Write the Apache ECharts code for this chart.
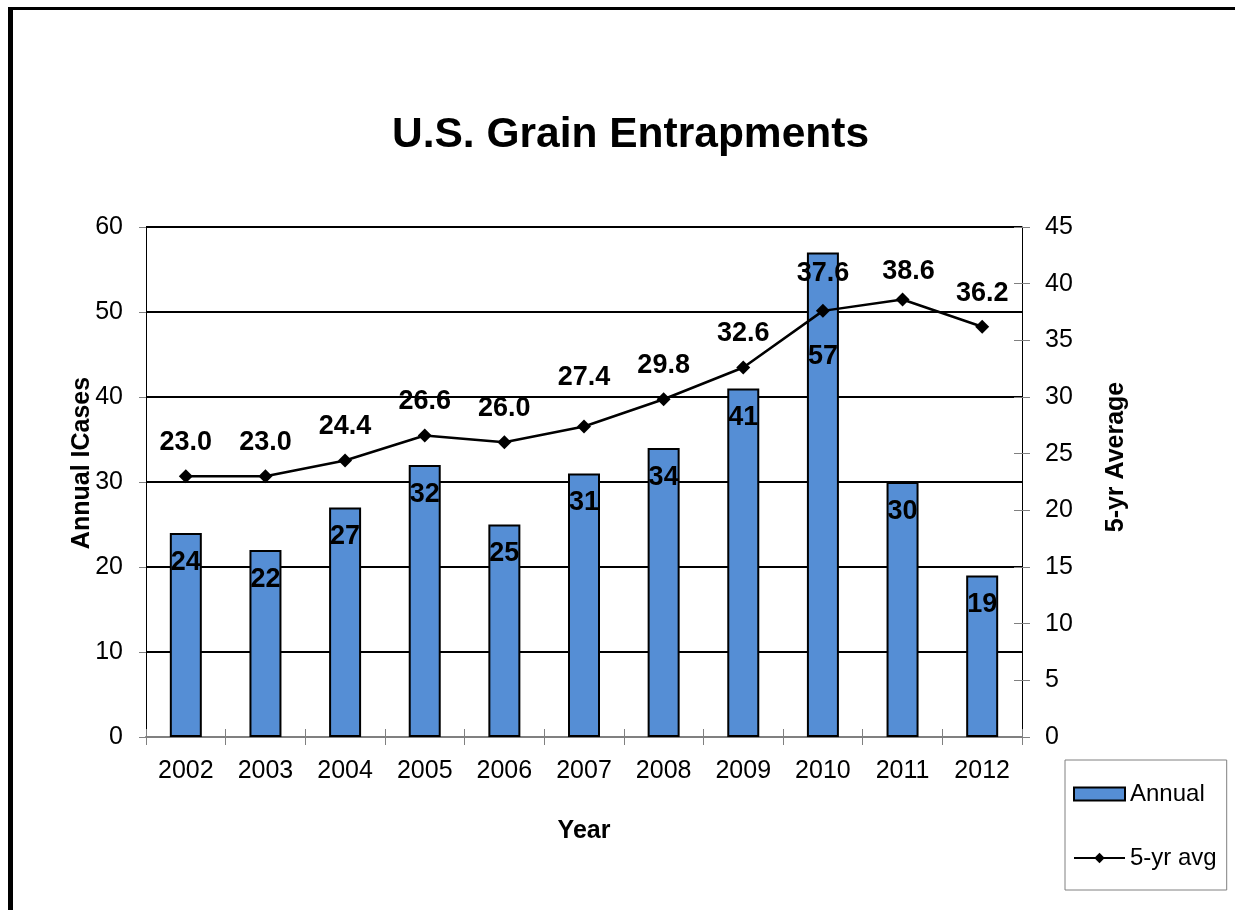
<!DOCTYPE html>
<html>
<head>
<meta charset="utf-8">
<script src="https://cdn.jsdelivr.net/npm/echarts@6/dist/echarts.min.js"></script>
<style>
html,body{margin:0;padding:0;background:#fff;}
#chart{width:1235px;height:910px;}
</style>
</head>
<body>
<div id="chart"></div>
<script>
const years = ['2002','2003','2004','2005','2006','2007','2008','2009','2010','2011','2012'];
const annual = [24, 22, 27, 32, 25, 31, 34, 41, 57, 30, 19];
const fiveYrAvg = [23.0, 23.0, 24.4, 26.6, 26.0, 27.4, 29.8, 32.6, 37.6, 38.6, 36.2];
const leftTicks = {min: 0, max: 60, interval: 10};
const rightTicks = {min: 0, max: 45, interval: 5};

const FONT = "'Liberation Sans', Arial, Helvetica, sans-serif";
// label nudges (style only)
const barLabelNudge = {8: [0, 75]};
const lineLabelNudge = {5: [0, -15], 8: [0, -4], 9: [6, 6]};

const barData = annual.map((v, i) => barLabelNudge[i] ? {value: v, label: {offset: barLabelNudge[i]}} : v);
const lineData = fiveYrAvg.map((v, i) => lineLabelNudge[i] ? {value: v, label: {offset: lineLabelNudge[i]}} : v);

const chart = echarts.init(document.getElementById('chart'), null, {renderer: 'canvas'});
chart.setOption({
  animation: false,
  backgroundColor: '#ffffff',
  textStyle: {fontFamily: FONT},
  title: {
    text: 'U.S. Grain Entrapments',
    left: 387,
    top: 109,
    textStyle: {fontFamily: FONT, fontSize: 42.5, fontWeight: 'bold', color: '#000'}
  },
  graphic: [
    {type: 'rect', shape: {x: 8, y: 7, width: 1227, height: 3}, style: {fill: '#000'}},
    {type: 'rect', shape: {x: 8, y: 7, width: 5, height: 903}, style: {fill: '#000'}}
  ],
  legend: {
    orient: 'vertical',
    left: 1065,
    top: 760,
    padding: [22, 10, 20, 8],
    itemGap: 40,
    itemWidth: 51,
    itemHeight: 13,
    borderColor: '#808080',
    borderWidth: 1,
    textStyle: {fontFamily: FONT, fontSize: 24, color: '#000'},
    data: [{name: 'Annual', icon: 'rect'}, {name: '5-yr avg'}]
  },
  grid: {left: 146, right: 213, top: 227, bottom: 173, containLabel: false},
  xAxis: [
    {
      type: 'category',
      data: years,
      position: 'bottom',
      name: 'Year',
      nameLocation: 'middle',
      nameGap: 82,
      nameTextStyle: {fontFamily: FONT, fontSize: 25, fontWeight: 'bold', color: '#000'},
      axisLine: {show: true, lineStyle: {color: '#808080', width: 2}},
      axisTick: {show: true, length: 8, lineStyle: {color: '#808080', width: 1}},
      axisLabel: {fontFamily: FONT, fontSize: 25, color: '#000', margin: 22}
    },
    {
      type: 'category',
      data: years,
      position: 'bottom',
      axisLine: {show: false},
      axisTick: {show: true, inside: true, length: 8, lineStyle: {color: '#808080', width: 1}},
      axisLabel: {show: false},
      splitLine: {show: false}
    }
  ],
  yAxis: [
    {
      type: 'value',
      position: 'left',
      min: leftTicks.min, max: leftTicks.max, interval: leftTicks.interval,
      name: 'Annual ICases',
      nameLocation: 'middle',
      nameRotate: 90,
      nameGap: 51,
      nameMoveOverlap: false,
      nameTextStyle: {fontFamily: FONT, fontSize: 25, fontWeight: 'bold', color: '#000', padding: [0, 0, 0, 38]},
      axisLine: {show: true, lineStyle: {color: '#000', width: 1}},
      axisTick: {show: true, length: 7, lineStyle: {color: '#808080', width: 1}},
      axisLabel: {fontFamily: FONT, fontSize: 25, color: '#000', margin: 23},
      splitLine: {show: true, lineStyle: {color: '#000', width: 2}}
    },
    {
      type: 'value',
      position: 'right',
      min: rightTicks.min, max: rightTicks.max, interval: rightTicks.interval,
      name: '5-yr Average',
      nameLocation: 'middle',
      nameRotate: 90,
      nameGap: 82,
      nameMoveOverlap: false,
      nameTextStyle: {fontFamily: FONT, fontSize: 25, fontWeight: 'bold', color: '#000', padding: [0, 0, 0, 50]},
      axisLine: {show: true, lineStyle: {color: '#000', width: 1}},
      axisTick: {show: true, length: 8, lineStyle: {color: '#808080', width: 1}},
      axisLabel: {fontFamily: FONT, fontSize: 25, color: '#000', margin: 23},
      splitLine: {show: false}
    },
    {
      type: 'value',
      position: 'right',
      min: rightTicks.min, max: rightTicks.max, interval: rightTicks.interval,
      axisLine: {show: false},
      axisTick: {show: true, inside: true, length: 8, lineStyle: {color: '#808080', width: 1}},
      axisLabel: {show: false},
      splitLine: {show: false}
    }
  ],
  series: [
    {
      name: 'Annual',
      type: 'bar',
      xAxisIndex: 0,
      yAxisIndex: 0,
      data: barData,
      barWidth: 32,
      itemStyle: {color: '#558ED5', borderColor: '#000', borderWidth: 2},
      label: {
        show: true,
        position: 'insideTop',
        distance: 16,
        fontFamily: FONT,
        fontSize: 27,
        fontWeight: 'bold',
        color: '#000'
      },
      z: 2
    },
    {
      name: '5-yr avg',
      type: 'line',
      xAxisIndex: 0,
      yAxisIndex: 1,
      data: lineData,
      symbol: 'diamond',
      symbolSize: 14,
      lineStyle: {color: '#000', width: 2.5},
      itemStyle: {color: '#000'},
      label: {
        show: true,
        position: 'top',
        distance: 13,
        fontFamily: FONT,
        fontSize: 27,
        fontWeight: 'bold',
        color: '#000',
        formatter: p => Number(p.value).toFixed(1)
      },
      z: 3
    }
  ]
});
</script>
</body>
</html>
